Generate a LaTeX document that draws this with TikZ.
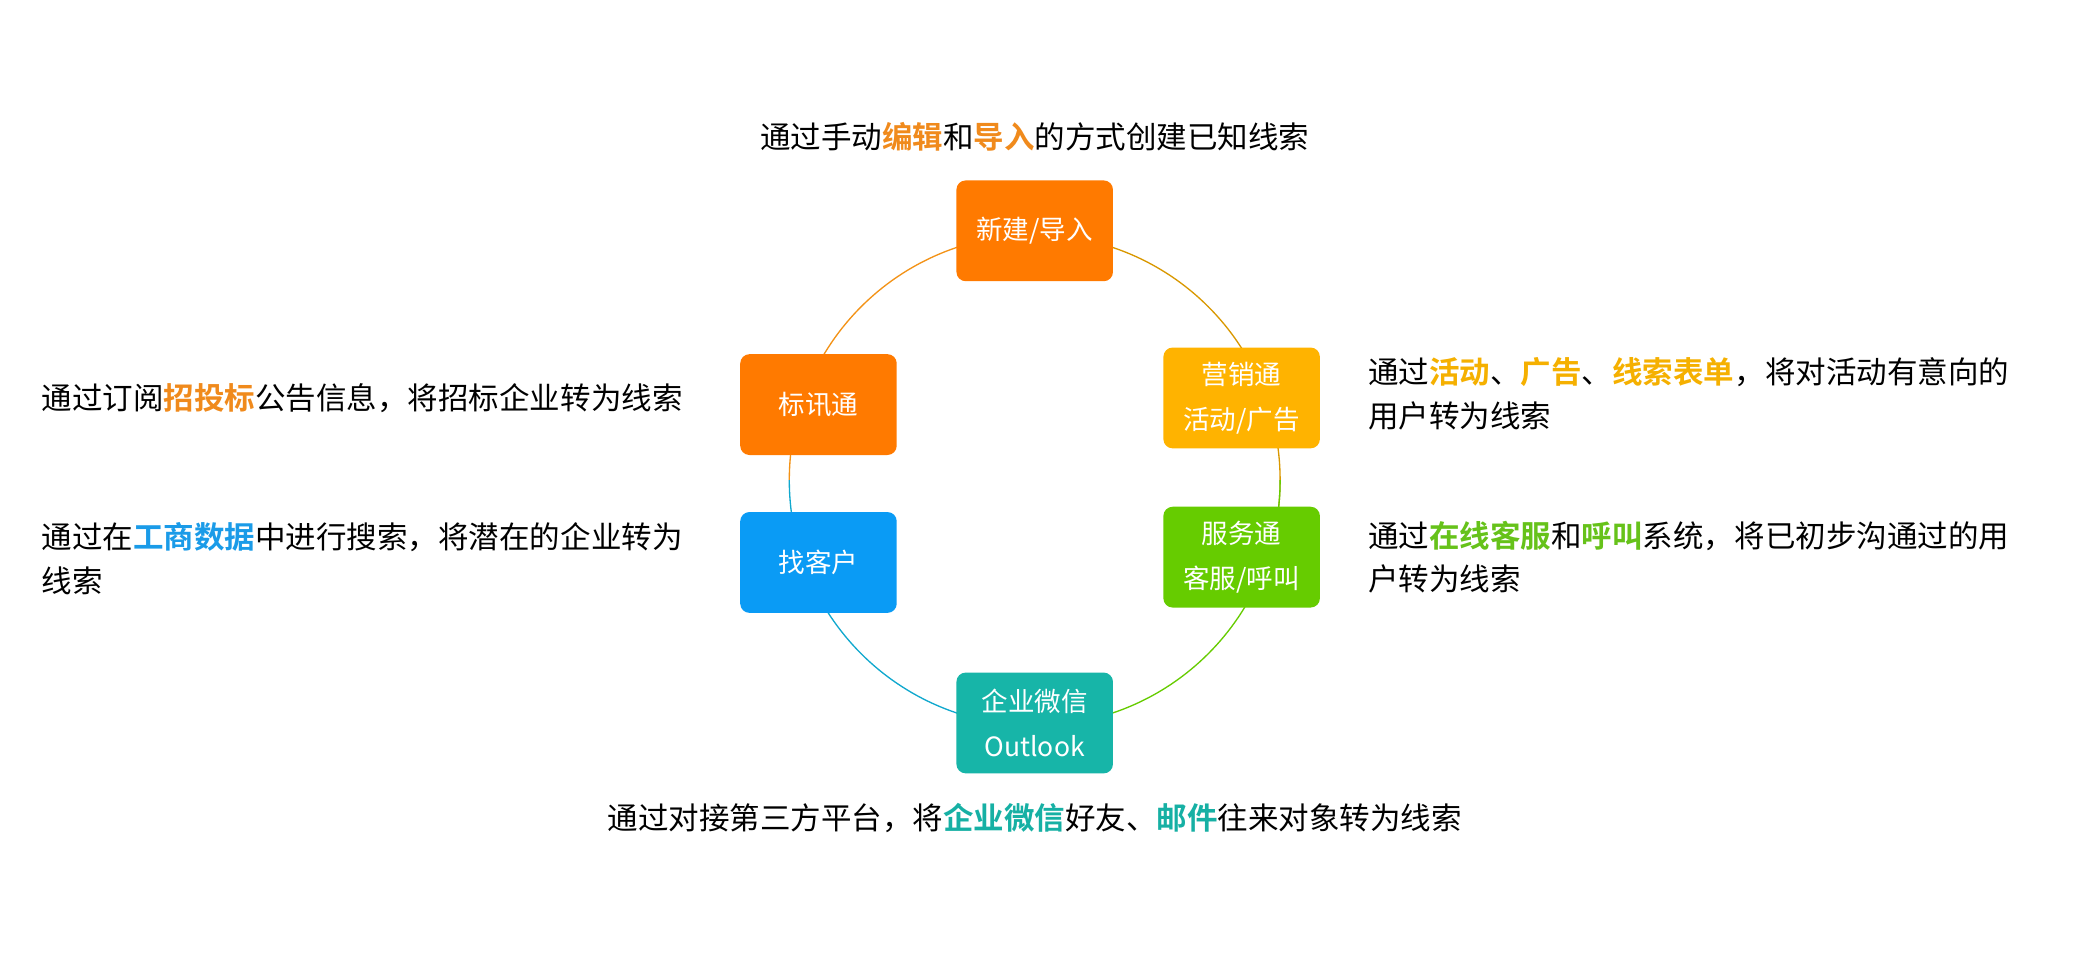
\documentclass[tikz,border=0pt]{standalone}
\usepackage{fontspec}
\setmainfont{Noto Sans CJK SC}[BoldFont={Noto Sans CJK SC Bold}]
\definecolor{cor}{HTML}{FF7A00}
\definecolor{cye}{HTML}{FFB300}
\definecolor{cgr}{HTML}{66CC00}
\definecolor{cte}{HTML}{17B5A8}
\definecolor{cbl}{HTML}{0A9BF5}
\definecolor{tor}{HTML}{F08A1C}
\definecolor{tye}{HTML}{F5B000}
\definecolor{tgr}{HTML}{66C21A}
\definecolor{tte}{HTML}{16B0A4}
\definecolor{tbl}{HTML}{1A9BE8}
\newcommand{\hl}[2]{\textcolor{#1}{\bfseries #2}}
\begin{document}
\begin{tikzpicture}[x=1pt,y=-1pt,
  box/.style={rounded corners=7pt,minimum width=118pt,minimum height=76pt,text=white,font=\fontsize{20}{34}\selectfont,align=center,inner sep=2pt},
  desc/.style={font=\fontsize{23}{33}\selectfont,align=left,anchor=west,text=black},
  ring/.style={line width=1pt}]
\useasboundingbox (0,0) rectangle (1568,730);
\fill[white] (0,0) rectangle (1568,730);
\draw[ring,color=tor!80!cye] (780,177) arc[start angle=-90,end angle=-180,radius=185];
\draw[ring,color=cye!85!black] (780,177) arc[start angle=-90,end angle=0,radius=185];
\draw[ring,color=cye!60!gray] (965,362) arc[start angle=0,end angle=30,radius=185];
\draw[ring,color=cgr] (965,362) arc[start angle=0,end angle=90,radius=185];
\draw[ring,color=cbl!50!cte] (595,362) arc[start angle=180,end angle=90,radius=185];
\node[box,fill=cor] (n1) at (780,174) {新建/导入};
\node[box,fill=cye] (n2) at (936,300) {营销通\\活动/广告};
\node[box,fill=cgr] (n3) at (936,420) {服务通\\客服/呼叫};
\node[box,fill=cte] (n4) at (780,545) {企业微信\\Outlook};
\node[box,fill=cbl] (n5) at (617,424) {找客户};
\node[box,fill=cor] (n6) at (617,305) {标讯通};
\node[font=\fontsize{23}{33}\selectfont] (t1) at (780,103) {通过手动\hl{tor}{编辑}和\hl{tor}{导入}的方式创建已知线索};
\node[desc] (t6) at (28,300) {通过订阅\hl{tor}{招投标}公告信息，将招标企业转为线索};
\node[desc] (t5) at (28,421) {通过在\hl{tbl}{工商数据}中进行搜索，将潜在的企业转为\\线索};
\node[desc] (t2) at (1028,297) {通过\hl{tye}{活动}、\hl{tye}{广告}、\hl{tye}{线索表单}，将对活动有意向的\\用户转为线索};
\node[desc] (t3) at (1028,420) {通过\hl{tgr}{在线客服}和\hl{tgr}{呼叫}系统，将已初步沟通过的用\\户转为线索};
\node[font=\fontsize{23}{33}\selectfont] (t4) at (780,617) {通过对接第三方平台，将\hl{tte}{企业微信}好友、\hl{tte}{邮件}往来对象转为线索};
\end{tikzpicture}
\end{document}
